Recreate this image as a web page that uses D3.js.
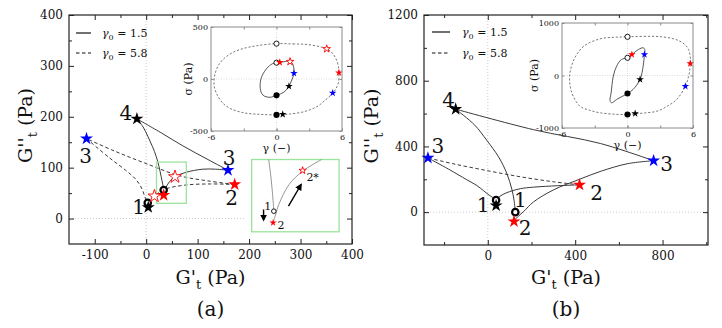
<!DOCTYPE html>
<html>
<head>
<meta charset="utf-8">
<script src="https://cdn.jsdelivr.net/npm/d3@7"></script>
<style>
  body { margin: 0; background: #fff; }
  svg { display: block; }
  text { font-family: "DejaVu Serif", serif; fill: #111; }
</style>
</head>
<body>
<svg width="722" height="328"></svg>
<script>
// ---------- (a) main plane: G't vs G''t (Pa) ----------
const aCircles = [[3, 31], [34, 56]];
const aBlackStars = [[4, 22], [-18, 196]];
const aRedStars = [[34, 46], [172, 67]];
const aRedOpenStars = [[16, 44], [56, 82]];
const aBlueStars = [[-116, 157], [159, 95]];
const aSolid = [
  [[34, 46], [38, 60], [45, 72], [56, 82], [78, 91], [110, 97], [135, 97], [159, 95]],
  [[159, 95], [120, 116], [71, 143], [30, 168], [-18, 196]],
  [[-18, 196], [-6, 180], [3, 162], [12, 142], [19.5, 122], [25, 102], [29, 83], [32, 68], [34, 56]]
];
const aDashed = [
  [[3, 30], [9, 37], [16, 44], [26, 52], [40, 59], [78, 66], [125, 68], [172, 67]],
  [[172, 67], [120, 74], [65, 84], [0, 108], [-60, 132], [-116, 157]],
  [[-116, 157], [-71, 119], [-40, 95], [-20, 77], [-8, 58], [-3, 44], [3, 30]]
];
const aLabels = ['4', '3', '1', '3', '2'];
const aLabelAt = [[-18, 196], [-116, 157], [3, 31], [159, 95], [172, 67]];

// magnified view of the green box in (a)
const zCurves = [
  [[31.3, 111], [32.5, 95], [33.5, 79], [34.2, 65], [34.7, 54]],
  [[34.5, 42], [36, 50], [38, 60.6], [44.8, 83], [53.8, 97.9], [66.3, 111]]
];
const zCircle = [[34.7, 53.1]];
const zRedStar = [[34.2, 40.1]];
const zRedOpenStar = [[53.8, 98.7]];
const zArrows = [[[27.9, 55], [27.9, 43]], [[44.4, 58.7], [52.8, 83]]];
const zLabels = ['1', '2', '2*'];
const zLabelAt = [[34.7, 53.1], [34.2, 40.1], [53.8, 98.7]];

// (a) inset: stress vs strain
const aInSolid = [[0, 157], [0.3, 160], [0.8, 168], [1.24, 167], [1.5, 140], [1.6, 55], [1.4, -10], [1.14, -70],
  [0.7, -125], [0, -157], [-0.6, -176], [-1.1, -165], [-1.36, -138], [-1.5, -74], [-1.36, 22], [-0.75, 118], [-0.3, 150]];
const aInDashed = [[0, 340], [1.5, 337], [2.8, 332], [4, 310], [4.6, 290], [5.1, 250], [5.5, 183], [5.7, 100],
  [5.72, 61], [5.66, -41], [5.4, -100], [5.15, -135], [4.5, -200], [3.7, -266], [2.5, -315], [1.2, -337],
  [0.6, -342], [0, -345], [-1.5, -340], [-3, -325], [-4.2, -285], [-4.9, -234], [-5.4, -160], [-5.7, -74],
  [-5.65, 40], [-5.2, 151], [-4.4, 230], [-3.3, 285], [-1.8, 320]];
const aInOpenCircles = [[0, 340], [0, 157]];
const aInFilledCircles = [[0, -345], [0, -157]];
const aInRedStars = [[5.72, 61], [0.3, 160]];
const aInRedOpenStars = [[4.6, 290], [1.24, 167]];
const aInBlueStars = [[5.15, -135], [1.6, 55]];
const aInBlackStars = [[0.57, -340], [1.14, -70]];

// ---------- (b) main plane ----------
const bCircles = [[38, 73], [126, 0]];
const bBlackStars = [[38, 40], [-147, 627]];
const bRedStars = [[120, -57], [420, 166]];
const bBlueStars = [[-274, 330], [759, 313]];
const bSolid = [
  [[122, -48], [140, -25], [165, 5], [209, 62], [300, 135], [420, 200], [520, 250], [640, 295], [759, 313]],
  [[759, 313], [515, 418], [209, 502], [-147, 627]],
  [[-147, 627], [-60, 530], [-5, 438], [50, 335], [87, 236], [110, 140], [120, 73], [126, 5]],
  [[38, 80], [70, 108], [100, 125], [150, 143], [209, 152], [320, 161], [420, 166]],
  [[-274, 330], [-180, 262], [-96, 197], [-50, 162], [10, 100], [38, 78]]
];
const bDashed = [
  [[420, 166], [300, 185], [150, 215], [0, 252], [-150, 292], [-274, 330]]
];
const bLabels = ['4', '3', '3', '2', '1', '1', '2'];
const bLabelAt = [[-147, 627], [-274, 330], [759, 313], [420, 166], [38, 73], [126, 0], [120, -57]];

// (b) inset
const bInSolid = [[0, 337], [0.4, 400], [1, 495], [1.45, 528], [1.6, 480], [1.55, 400], [1.45, 200], [1.15, -76],
  [0.5, -267], [0, -343], [-1, -457], [-1.45, -520], [-1.6, -480], [-1.5, -330], [-1.3, -13], [-1, 177], [-0.55, 305]];
const bInDashed = [[0, 737], [1.5, 745], [3, 740], [4.2, 700], [4.8, 653], [5.3, 580], [5.6, 495], [5.75, 350],
  [5.75, 229], [5.7, 100], [5.6, -13], [5.3, -204], [4.5, -457], [3.6, -590], [2.7, -680], [1.5, -715],
  [0.7, -730], [0, -743], [-1, -740], [-2.5, -711], [-3.5, -660], [-4.35, -585], [-5.1, -330], [-5.3, -13],
  [-4.9, 305], [-4, 558], [-2.5, 699], [-1.2, 728]];
const bInOpenCircles = [[0, 737], [0, 337]];
const bInFilledCircles = [[0, -743], [0, -343]];
const bInRedStars = [[5.75, 229], [0.4, 400]];
const bInRedOpenStars = [];
const bInBlueStars = [[5.3, -204], [1.55, 400]];
const bInBlackStars = [[0.7, -724], [1.15, -76]];

const legendText = ['1.5', '5.8'];

// ---------- drawing ----------
const svg = d3.select('svg');
const RED = '#ff0000', BLUE = '#0000ff', LINE = '#3a3a3a', GREEN = '#9be39b';
const star = r => d3.symbol(d3.symbolStar).size(r * r / 0.8908)();

svg.append('defs').append('marker')
  .attr('id', 'arrow').attr('viewBox', '0 0 10 10').attr('refX', 8).attr('refY', 5)
  .attr('markerWidth', 5).attr('markerHeight', 5).attr('orient', 'auto-start-reverse')
  .append('path').attr('d', 'M0,0 L10,5 L0,10 z').attr('fill', '#000');

function markers(g, x, y, set, sz) {
  const put = (pts, fn) => pts.forEach(d => fn(g, x(d[0]), y(d[1])));
  put(set.circles || [], (g, px, py) => g.append('circle').attr('cx', px).attr('cy', py)
    .attr('r', sz.circle).attr('fill', '#fff').attr('stroke', '#000').attr('stroke-width', sz.circleStroke));
  put(set.filled || [], (g, px, py) => g.append('circle').attr('cx', px).attr('cy', py)
    .attr('r', sz.circle + sz.circleStroke / 2).attr('fill', '#000'));
  const stars = (pts, fill, stroke) => put(pts, (g, px, py) => g.append('path')
    .attr('d', star(sz.star)).attr('transform', `translate(${px},${py})`)
    .attr('fill', fill).attr('stroke', stroke).attr('stroke-width', 0.9));
  stars(set.black || [], '#000', 'none');
  stars(set.redOpen || [], '#fff', RED);
  stars(set.red || [], RED, 'none');
  stars(set.blue || [], BLUE, 'none');
}

function drawPanel(p) {
  const x = d3.scaleLinear().domain(p.xDomain).range([p.left, p.right]);
  const y = d3.scaleLinear().domain(p.yDomain).range([p.bottom, p.top]);
  const g = svg.append('g');

  // zero reference lines
  g.append('line').attr('x1', x(0)).attr('x2', x(0)).attr('y1', p.top).attr('y2', p.bottom)
    .attr('stroke', '#bbb').attr('stroke-width', 0.8).attr('stroke-dasharray', '1,2');
  g.append('line').attr('x1', x(p.hLine[0])).attr('x2', x(p.hLine[1])).attr('y1', y(0)).attr('y2', y(0))
    .attr('stroke', '#bbb').attr('stroke-width', 0.8).attr('stroke-dasharray', '1,2');

  const line = d3.line().x(d => x(d[0])).y(d => y(d[1])).curve(d3.curveCatmullRom.alpha(0.5));
  p.solid.forEach(s => g.append('path').attr('d', line(s)).attr('fill', 'none')
    .attr('stroke', LINE).attr('stroke-width', 1));
  p.dashed.forEach(s => g.append('path').attr('d', line(s)).attr('fill', 'none')
    .attr('stroke', LINE).attr('stroke-width', 1).attr('stroke-dasharray', '3.5,2.5'));

  if (p.zoomBox) {
    const b = p.zoomBox;
    g.append('rect').attr('x', x(b[0])).attr('y', y(b[3]))
      .attr('width', x(b[1]) - x(b[0])).attr('height', y(b[2]) - y(b[3]))
      .attr('fill', 'none').attr('stroke', GREEN).attr('stroke-width', 1.3);
  }

  markers(g, x, y, p.marks, { circle: 3.2, circleStroke: 2.2, star: 6.8 });

  p.labels.forEach((t, i) => g.append('text')
    .attr('x', x(p.labelAt[i][0]) + p.labelOff[i][0]).attr('y', y(p.labelAt[i][1]) + p.labelOff[i][1])
    .attr('text-anchor', 'middle').attr('dy', '0.36em').attr('font-size', 20).text(t));

  // frame and ticks (inward, all four sides)
  g.append('rect').attr('x', p.left).attr('y', p.top).attr('width', p.right - p.left)
    .attr('height', p.bottom - p.top).attr('fill', 'none').attr('stroke', '#222').attr('stroke-width', 1.2);
  const axis = (fn, sc, vals, len, lab, tr) => g.append('g').attr('transform', tr)
    .call(fn(sc).tickValues(vals).tickSize(-len).tickPadding(6).tickFormat(lab ? (d => d) : () => ''))
    .call(a => a.select('.domain').remove())
    .call(a => a.selectAll('line').attr('stroke', '#222'))
    .call(a => a.selectAll('text').attr('font-size', 12).attr('font-family', '"DejaVu Serif", serif').attr('fill', '#222'));
  axis(d3.axisBottom, x, p.xMajor, 5, true, `translate(0,${p.bottom})`);
  axis(d3.axisBottom, x, p.xMinor, 3, false, `translate(0,${p.bottom})`);
  axis(d3.axisTop, x, p.xMajor, 5, false, `translate(0,${p.top})`);
  axis(d3.axisTop, x, p.xMinor, 3, false, `translate(0,${p.top})`);
  axis(d3.axisLeft, y, p.yMajor, 5, true, `translate(${p.left},0)`);
  axis(d3.axisLeft, y, p.yMinor, 3, false, `translate(${p.left},0)`);
  axis(d3.axisRight, y, p.yMajor, 5, false, `translate(${p.right},0)`);
  axis(d3.axisRight, y, p.yMinor, 3, false, `translate(${p.right},0)`);

  // axis titles
  const cx = (p.left + p.right) / 2;
  const xt = g.append('text').attr('x', cx).attr('y', 284).attr('text-anchor', 'middle').attr('font-size', 19);
  xt.append('tspan').text("G'");
  xt.append('tspan').attr('dy', 5).attr('font-size', 13).text('t');
  xt.append('tspan').attr('dy', -5).text(' (Pa)');
  const yt = g.append('text').attr('transform', `translate(${p.yTitleX},${(p.top + p.bottom) / 2 - 4}) rotate(-90)`)
    .attr('text-anchor', 'middle').attr('font-size', 19);
  yt.append('tspan').text("G''");
  yt.append('tspan').attr('dy', 5).attr('font-size', 13).text('t');
  yt.append('tspan').attr('dy', -5).text(' (Pa)');
  g.append('text').attr('x', cx).attr('y', 316).attr('text-anchor', 'middle').attr('font-size', 20).text(p.tag);

  // legend
  const L = p.legend;
  legendText.forEach((v, i) => {
    const ly = L.y[i];
    g.append('line').attr('x1', L.x1).attr('x2', L.x2).attr('y1', ly).attr('y2', ly)
      .attr('stroke', '#111').attr('stroke-width', 1.2).attr('stroke-dasharray', i ? '3.5,2.5' : null);
    const t = g.append('text').attr('x', L.tx).attr('y', ly + 4).attr('font-size', 11);
    t.append('tspan').attr('font-style', 'italic').text('γ');
    t.append('tspan').attr('dy', 3).attr('font-size', 8).text('0');
    t.append('tspan').attr('dy', -3).text(' = ' + v);
  });

  return { x, y, g };
}

function drawInset(q) {
  const x = d3.scaleLinear().domain([-6, 6]).range([q.left, q.right]);
  const y = d3.scaleLinear().domain(q.yDomain).range([q.bottom, q.top]);
  const g = svg.append('g');
  g.append('rect').attr('x', q.left).attr('y', q.top).attr('width', q.right - q.left)
    .attr('height', q.bottom - q.top).attr('fill', '#fff');
  g.append('line').attr('x1', x(0)).attr('x2', x(0)).attr('y1', q.top).attr('y2', q.bottom)
    .attr('stroke', '#ccc').attr('stroke-width', 0.7).attr('stroke-dasharray', '1,1.5');
  g.append('line').attr('x1', q.left).attr('x2', q.right).attr('y1', y(0)).attr('y2', y(0))
    .attr('stroke', '#ccc').attr('stroke-width', 0.7).attr('stroke-dasharray', '1,1.5');
  const loop = d3.line().x(d => x(d[0])).y(d => y(d[1])).curve(d3.curveCatmullRomClosed.alpha(0.5));
  g.append('path').attr('d', loop(q.dashed)).attr('fill', 'none').attr('stroke', '#555')
    .attr('stroke-width', 0.8).attr('stroke-dasharray', '2.2,1.8');
  g.append('path').attr('d', loop(q.solid)).attr('fill', 'none').attr('stroke', '#444').attr('stroke-width', 0.9);
  markers(g, x, y, q.marks, { circle: 2.6, circleStroke: 0.9, star: 4 });

  g.append('rect').attr('x', q.left).attr('y', q.top).attr('width', q.right - q.left)
    .attr('height', q.bottom - q.top).attr('fill', 'none').attr('stroke', '#8a8a8a').attr('stroke-width', 1);
  const axis = (fn, sc, vals, tr, lab) => g.append('g').attr('transform', tr)
    .call(fn(sc).tickValues(vals).tickSize(-2.5).tickPadding(3).tickFormat(lab ? (d => d) : () => ''))
    .call(a => a.select('.domain').remove())
    .call(a => a.selectAll('line').attr('stroke', '#8a8a8a'))
    .call(a => a.selectAll('text').attr('font-size', 8).attr('font-family', '"DejaVu Serif", serif').attr('fill', '#222'));
  axis(d3.axisBottom, x, [-6, -3, 0, 3, 6], `translate(0,${q.bottom})`, false);
  axis(d3.axisBottom, x, [-6, 0, 6], `translate(0,${q.bottom})`, true);
  axis(d3.axisTop, x, [-3, 0, 3], `translate(0,${q.top})`, false);
  axis(d3.axisLeft, y, q.yTicks, `translate(${q.left},0)`, true);
  axis(d3.axisRight, y, q.yTicks, `translate(${q.right},0)`, false);

  g.append('text').attr('x', (q.left + q.right) / 2).attr('y', q.bottom + 21)
    .attr('text-anchor', 'middle').attr('font-size', 11).text('γ (−)');
  g.append('text').attr('transform', `translate(${q.left - q.titleGap},${(q.top + q.bottom) / 2}) rotate(-90)`)
    .attr('text-anchor', 'middle').attr('font-size', 11).text('σ (Pa)');
}

const A = drawPanel({
  left: 69, right: 352, top: 15, bottom: 244,
  xDomain: [-150, 400], yDomain: [-50, 400],
  xMajor: [-100, 0, 100, 200, 300, 400], xMinor: [-50, 50, 150, 250, 350],
  yMajor: [0, 100, 200, 300, 400], yMinor: [50, 150, 250, 350],
  hLine: [-150, 190], zoomBox: [20, 78, 30, 111],
  solid: aSolid, dashed: aDashed,
  marks: { circles: aCircles, black: aBlackStars, redOpen: aRedOpenStars, red: aRedStars, blue: aBlueStars },
  labels: aLabels, labelAt: aLabelAt,
  labelOff: [[-11, -6], [-1, 17], [-9, 4], [1, -12], [-3, 13]],
  yTitleX: 32, tag: '(a)',
  legend: { x1: 76, x2: 91, tx: 102, y: [33, 53] }
});

drawPanel({
  left: 424, right: 708, top: 15, bottom: 245,
  xDomain: [-292, 1008], yDomain: [-200, 1200],
  xMajor: [0, 400, 800], xMinor: [-200, 200, 600, 1000],
  yMajor: [0, 400, 800, 1200], yMinor: [200, 600, 1000],
  hLine: [-292, 1008],
  solid: bSolid, dashed: bDashed,
  marks: { circles: bCircles, black: bBlackStars, red: bRedStars, blue: bBlueStars },
  labels: bLabels, labelAt: bLabelAt,
  labelOff: [[-7, -9], [10, -12], [13, 3], [17, 8], [-13, 5], [5, -12], [11, 6]],
  yTitleX: 378, tag: '(b)',
  legend: { x1: 432, x2: 450, tx: 462, y: [32, 53] }
});

// magnified view box inside (a)
(function () {
  const bx = [A.x(205), A.x(375)], by = [A.y(116), A.y(-26)];
  const g = svg.append('g');
  g.append('rect').attr('x', bx[0]).attr('y', by[0]).attr('width', bx[1] - bx[0]).attr('height', by[1] - by[0])
    .attr('fill', '#fff').attr('stroke', GREEN).attr('stroke-width', 1.3);
  const x = d3.scaleLinear().domain([20, 78]).range([bx[0], bx[1]]);
  const y = d3.scaleLinear().domain([30, 111]).range([by[1], by[0]]);
  const line = d3.line().x(d => x(d[0])).y(d => y(d[1])).curve(d3.curveCatmullRom.alpha(0.5));
  zCurves.forEach(c => g.append('path').attr('d', line(c)).attr('fill', 'none')
    .attr('stroke', '#8a8a8a').attr('stroke-width', 0.9));
  zArrows.forEach(a => g.append('line').attr('x1', x(a[0][0])).attr('y1', y(a[0][1]))
    .attr('x2', x(a[1][0])).attr('y2', y(a[1][1])).attr('stroke', '#000').attr('stroke-width', 1.4)
    .attr('marker-end', 'url(#arrow)'));
  markers(g, x, y, { circles: zCircle, redOpen: zRedOpenStar, red: zRedStar }, { circle: 2.3, circleStroke: 0.9, star: 3.8 });
  const off = [[-6, -5], [8, 2], [10, 7]];
  zLabels.forEach((t, i) => g.append('text').attr('x', x(zLabelAt[i][0]) + off[i][0])
    .attr('y', y(zLabelAt[i][1]) + off[i][1]).attr('dy', '0.36em').attr('text-anchor', 'middle')
    .attr('font-family', '"Liberation Sans", sans-serif').attr('font-size', 11).text(t));
})();

drawInset({
  left: 211, right: 342, top: 27, bottom: 131, yDomain: [-500, 500], yTicks: [-500, 0, 500], titleGap: 19,
  solid: aInSolid, dashed: aInDashed,
  marks: { circles: aInOpenCircles, filled: aInFilledCircles, black: aInBlackStars,
    redOpen: aInRedOpenStars, red: aInRedStars, blue: aInBlueStars }
});
drawInset({
  left: 562, right: 693, top: 23, bottom: 128, yDomain: [-1000, 1000], yTicks: [-1000, 0, 1000], titleGap: 24,
  solid: bInSolid, dashed: bInDashed,
  marks: { circles: bInOpenCircles, filled: bInFilledCircles, black: bInBlackStars,
    redOpen: bInRedOpenStars, red: bInRedStars, blue: bInBlueStars }
});
</script>
</body>
</html>
